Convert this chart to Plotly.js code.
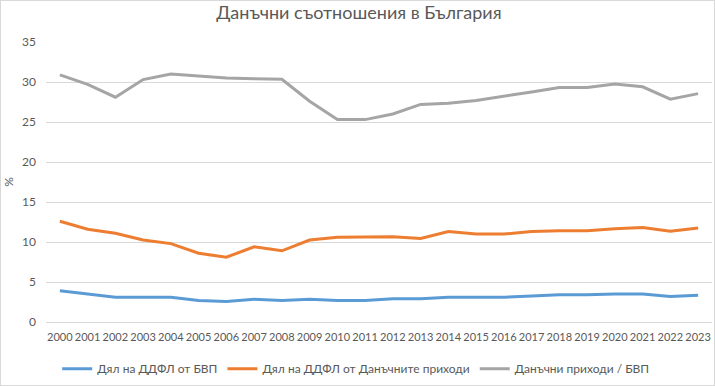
<!DOCTYPE html>
<html>
<head>
<meta charset="utf-8">
<script src="https://cdn.plot.ly/plotly-3.0.1.min.js"></script>
<style>
html,body{margin:0;padding:0;background:#fff;}
#chart{position:absolute;left:0;top:0;width:713px;height:384px;border:1px solid #d9d9d9;}
</style>
</head>
<body>
<div id="chart"></div>
<script>
var years = ["2000","2001","2002","2003","2004","2005","2006","2007","2008","2009","2010","2011","2012","2013","2014","2015","2016","2017","2018","2019","2020","2021","2022","2023"];
var pitGdp = [3.9,3.5,3.1,3.1,3.1,2.7,2.55,2.85,2.7,2.85,2.7,2.7,2.9,2.9,3.1,3.1,3.1,3.25,3.4,3.4,3.5,3.5,3.2,3.35];
var pitTax = [12.6,11.6,11.1,10.25,9.8,8.6,8.1,9.4,8.9,10.25,10.6,10.6,10.65,10.45,11.3,11.0,11.0,11.3,11.4,11.4,11.65,11.8,11.35,11.75];
var taxGdp = [30.9,29.7,28.1,30.3,31.0,30.75,30.5,30.4,30.35,27.6,25.3,25.3,26.0,27.2,27.35,27.7,28.2,28.75,29.3,29.3,29.75,29.4,27.85,28.55];
var names = ["Дял на ДДФЛ от БВП","Дял на ДДФЛ от Данъчните приходи","Данъчни приходи / БВП"];
var colors = ["#5B9BD5","#ED7D31","#A5A5A5"];
var series = [pitGdp, pitTax, taxGdp];
var yTicks = [0,5,10,15,20,25,30,35];

var font = "Lato, sans-serif";
var traces = series.map(function(s,i){
  return {x: years, y: s, name: names[i], type: 'scatter', mode: 'lines',
          line: {color: colors[i], width: 3}, hoverinfo: 'skip'};
});

var layout = {
  width: 713, height: 384,
  margin: {l: 45, r: 2, t: 41, b: 61},
  paper_bgcolor: '#ffffff', plot_bgcolor: '#ffffff',
  title: {text: "Данъчни съотношения в България", x: 0.502, xanchor: 'center', y: 0.985, yanchor: 'top',
          font: {family: font, size: 18, color: '#595959'}},
  font: {family: font, size: 12, color: '#595959'},
  xaxis: {type: 'category', range: [-0.5, 23.5], showgrid: false, zeroline: false,
          showline: true, linecolor: '#d9d9d9', linewidth: 1, ticks: '', ticklabelstandoff: 5,
          tickfont: {family: font, size: 11, color: '#595959'}, tickangle: 0, fixedrange: true},
  yaxis: {range: [0, 35], tickvals: yTicks, ticktext: yTicks.map(String), showgrid: true, gridcolor: '#d9d9d9',
          gridwidth: 1, zeroline: false, showline: false, ticks: '', ticklabelstandoff: 9,
          tickfont: {family: font, size: 12, color: '#595959'},
          title: {text: "%", standoff: 10, font: {family: font, size: 12, color: '#595959'}}, fixedrange: true},
  legend: {orientation: 'h', x: 0.465, xanchor: 'center', y: -0.115, yanchor: 'top',
           font: {family: font, size: 12, color: '#595959'}, itemwidth: 30, traceorder: 'normal'},
  showlegend: true
};

Plotly.newPlot('chart', traces, layout, {staticPlot: true, displayModeBar: false});
</script>
</body>
</html>
